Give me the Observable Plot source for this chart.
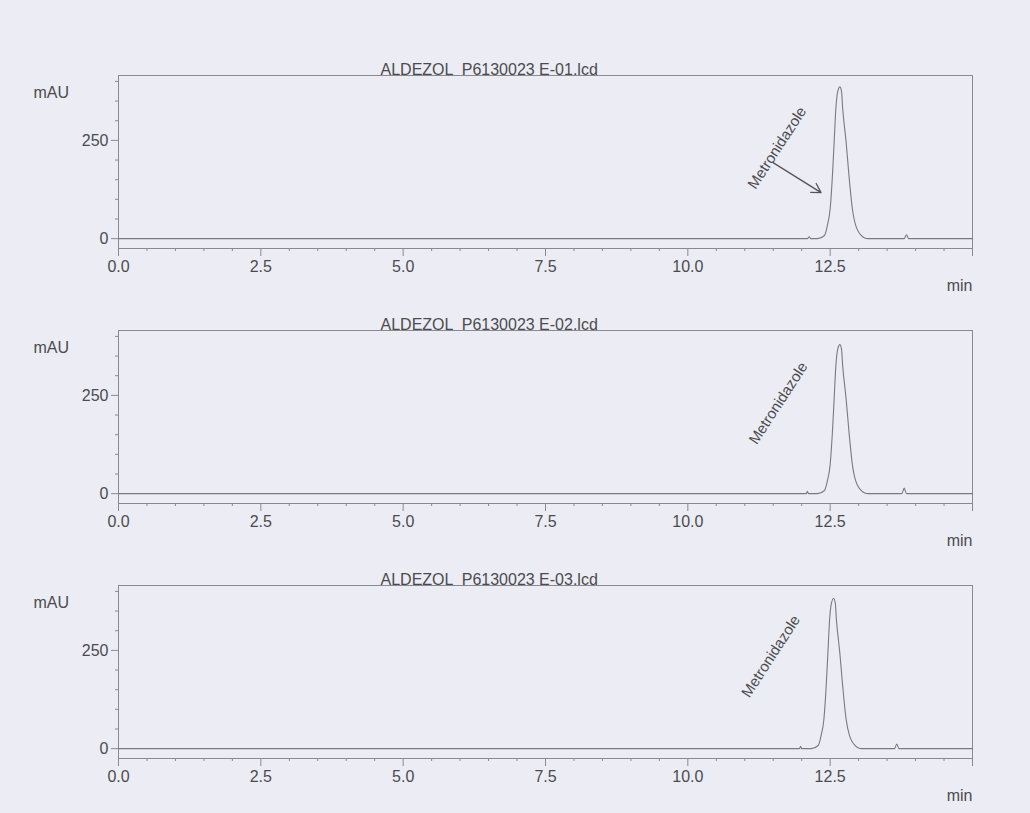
<!DOCTYPE html>
<html><head><meta charset="utf-8">
<script src="https://cdn.jsdelivr.net/npm/d3@7"></script>
<script src="https://cdn.jsdelivr.net/npm/@observablehq/plot@0.6"></script>
<style>
html,body{margin:0;padding:0;background:#ecedf4;}
#page{position:relative;width:1030px;height:813px;overflow:hidden;background:#ecedf4;}
.panel{position:absolute;left:0;width:1030px;}
</style></head><body><div id="page"></div>
<script>
// ---- data ----
const titles = ["ALDEZOL  P6130023 E-01.lcd", "ALDEZOL  P6130023 E-02.lcd", "ALDEZOL  P6130023 E-03.lcd"];
const peakName = "Metronidazole";

const times1 = [0, 12.10, 12.13, 12.16, 12.28, 12.40, 12.45, 12.50, 12.54, 12.57, 12.60, 12.63, 12.67, 12.70, 12.72, 12.78, 12.83, 12.89, 12.95, 13.07, 13.16, 13.80, 13.84, 13.88, 15.0];
const mau1   = [0, 0, 5, 0, 0, 8, 33, 76, 161, 246, 331, 372, 386, 374, 331, 246, 161, 76, 33, 5, 0, 0, 10, 0, 0];

const times2 = [0, 12.08, 12.10, 12.12, 12.28, 12.40, 12.45, 12.50, 12.54, 12.57, 12.60, 12.63, 12.67, 12.70, 12.72, 12.78, 12.83, 12.89, 12.95, 13.07, 13.16, 13.76, 13.80, 13.84, 15.0];
const mau2   = [0, 0, 6, 0, 0, 8, 32, 74, 158, 241, 325, 366, 379, 367, 325, 241, 158, 74, 32, 5, 0, 0, 14, 0, 0];

const times3 = [0, 11.96, 11.98, 12.00, 12.17, 12.29, 12.34, 12.39, 12.43, 12.46, 12.49, 12.52, 12.56, 12.59, 12.61, 12.67, 12.72, 12.78, 12.84, 12.96, 13.05, 13.63, 13.67, 13.71, 15.0];
const mau3   = [0, 0, 6, 0, 0, 8, 33, 75, 159, 243, 328, 368, 382, 370, 328, 243, 159, 75, 33, 5, 0, 0, 12, 0, 0];

// label anchor (time, mAU) of the rotated peak name per panel
const labelTime = [11.57, 11.59, 11.46];
const labelMau  = [231, 230, 235];
// arrow in first panel (from, to) in (time, mAU)
const arrowFrom = [11.49, 194];
const arrowTo   = [12.34, 117];

const xMajorTicks = [0, 2.5, 5, 7.5, 10, 12.5, 15];
const xTickLabels = ["0.0", "2.5", "5.0", "7.5", "10.0", "12.5", ""];
const xMinorTicks = [0.5, 1, 1.5, 2, 3, 3.5, 4, 4.5, 5.5, 6, 6.5, 7, 8, 8.5, 9, 9.5, 10.5, 11, 11.5, 12, 13, 13.5, 14, 14.5];
const yMajorTicks = [0, 250];
const yMinorTicks = [50, 100, 150, 200, 300, 350, 400];

const allTimes = [times1, times2, times3];
const allMau = [mau1, mau2, mau3];
const panelTops = [50, 305, 560];

const lineColor = "#8a8a8e";
const textColor = "#4b4b4f";
const traceColor = "#7a7a7e";
const fontFamily = "'Liberation Sans', Arial, sans-serif";

function makePanel(i) {
  const data = allTimes[i].map((t, j) => ({t, v: allMau[i][j]}));
  const marks = [
    Plot.frame({stroke: lineColor, strokeWidth: 1}),
    Plot.axisY(yMinorTicks, {anchor: "left", tickSize: 3, tickFormat: () => "", stroke: lineColor, label: null}),
    Plot.axisY(yMajorTicks, {anchor: "left", tickSize: 7, tickPadding: 3, stroke: lineColor, fill: textColor, fontSize: 16, label: null}),
    Plot.axisX(xMinorTicks, {anchor: "bottom", tickSize: 3, tickFormat: () => "", stroke: lineColor, label: null}),
    Plot.axisX(xMajorTicks, {anchor: "bottom", tickSize: 8, tickPadding: 4, stroke: lineColor, fill: textColor, fontSize: 16,
      tickFormat: d => xTickLabels[xMajorTicks.indexOf(d)], label: null}),
    Plot.line(data, {x: "t", y: "v", stroke: traceColor, strokeWidth: 1.1, curve: "monotone-x"}),
    Plot.text([titles[i]], {frameAnchor: "top-left", dx: 262, dy: -12, textAnchor: "start", fill: textColor, fontSize: 16}),
    Plot.text(["mAU"], {frameAnchor: "top-left", dx: -85, dy: 11, textAnchor: "start", fill: textColor, fontSize: 16}),
    Plot.text(["min"], {frameAnchor: "bottom-right", dy: 42, textAnchor: "end", fill: textColor, fontSize: 16}),
    Plot.text([{t: labelTime[i], v: labelMau[i]}], {x: "t", y: "v", text: () => peakName, rotate: -57, fill: textColor, fontSize: 15})
  ];
  if (i === 0) {
    marks.push(Plot.arrow([{x1: arrowFrom[0], y1: arrowFrom[1], x2: arrowTo[0], y2: arrowTo[1]}],
      {x1: "x1", y1: "y1", x2: "x2", y2: "y2", stroke: "#555559", strokeWidth: 1.3, headLength: 12}));
  }
  return Plot.plot({
    width: 1030,
    height: 253,
    marginLeft: 118,
    marginRight: 58,
    marginTop: 25,
    marginBottom: 55,
    x: {domain: [0, 15], label: null},
    y: {domain: [-25, 415], label: null},
    style: {fontFamily, fontSize: "16px", color: textColor, background: "transparent", overflow: "visible"},
    marks
  });
}

const page = document.getElementById("page");
for (let i = 0; i < 3; i++) {
  const div = document.createElement("div");
  div.className = "panel";
  div.style.top = panelTops[i] + "px";
  div.appendChild(makePanel(i));
  page.appendChild(div);
}
</script>
</body></html>
